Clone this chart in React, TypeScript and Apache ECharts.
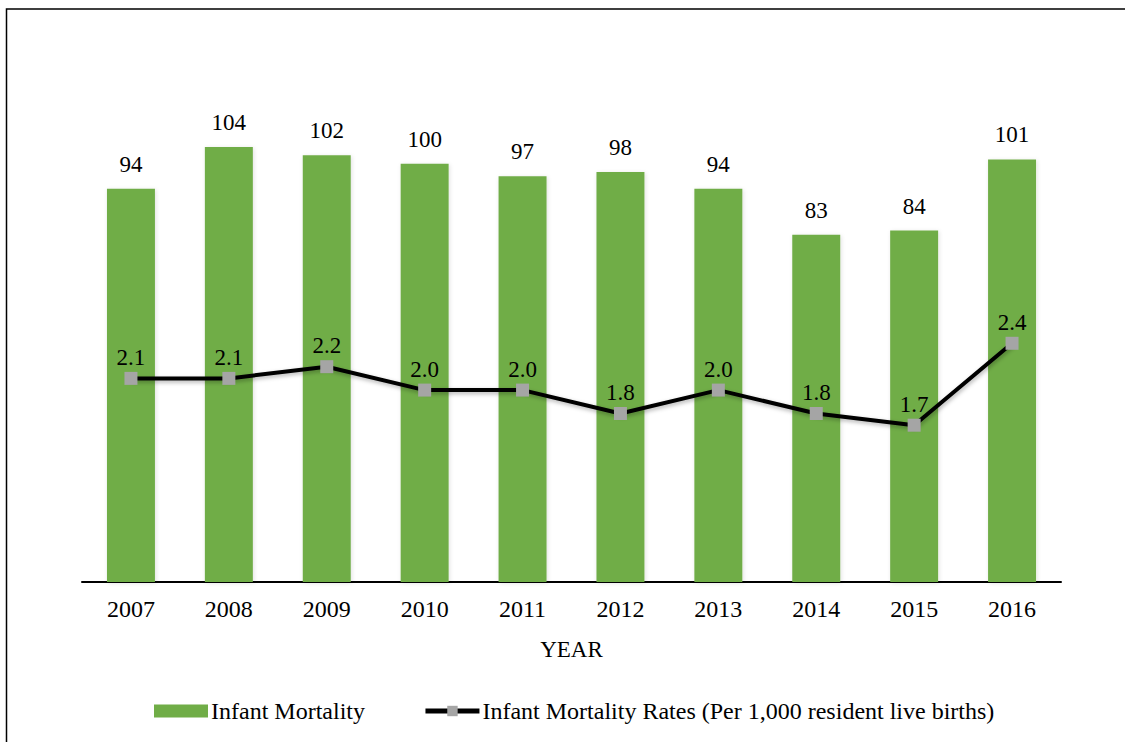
import React, { useEffect, useRef } from "react";
import * as echarts from "echarts";

const years = ["2007", "2008", "2009", "2010", "2011", "2012", "2013", "2014", "2015", "2016"];
const infantMortality = [94, 104, 102, 100, 97, 98, 94, 83, 84, 101];
const mortalityRates = [2.1, 2.1, 2.2, 2.0, 2.0, 1.8, 2.0, 1.8, 1.7, 2.4];

const FONT = "Liberation Serif";

export default function App() {
  const ref = useRef<HTMLDivElement>(null);
  useEffect(() => {
    if (!ref.current) return;
    const chart = echarts.init(ref.current, null, { renderer: "svg" });
    chart.setOption({
      animation: false,
      backgroundColor: "#ffffff",
      textStyle: { fontFamily: FONT, color: "#000" },
      grid: { left: 82, right: 64, top: 80, bottom: 160, containLabel: false },
      graphic: [
        {
          type: "rect",
          shape: { x: 6.5, y: 9, width: 1200, height: 800 },
          style: { fill: "none", stroke: "#000", lineWidth: 1.5 },
          silent: true,
        },
      ],
      legend: {
        left: 154,
        top: 699,
        padding: 0,
        itemGap: 58,
        itemWidth: 54,
        itemHeight: 13,
        textStyle: { fontFamily: FONT, fontSize: 24, color: "#000", padding: [0, 0, 0, -2] },
        data: [
          { name: "Infant Mortality", icon: "rect", itemStyle: { color: "#70AD47" } },
          {
            name: "Infant Mortality Rates (Per 1,000 resident live births)",
            lineStyle: { width: 5, color: "#000" },
            itemStyle: { color: "#A5A5A5" },
          },
        ],
      },
      xAxis: {
        type: "category",
        data: years,
        name: "YEAR",
        nameLocation: "middle",
        nameGap: 56,
        nameTextStyle: { fontFamily: FONT, fontSize: 23, color: "#000", verticalAlign: "top" },
        axisLine: { show: true, lineStyle: { color: "#000", width: 2 } },
        axisTick: { show: false },
        axisLabel: { fontFamily: FONT, fontSize: 24, color: "#000", margin: 15 },
      },
      yAxis: [
        { type: "value", min: 0, max: 120, show: false, splitLine: { show: false } },
        { type: "value", min: 0.36, max: 4.65, show: false, splitLine: { show: false } },
      ],
      series: [
        {
          name: "Infant Mortality",
          type: "bar",
          data: infantMortality,
          barWidth: "49%",
          itemStyle: {
            color: "#70AD47",
            shadowColor: "rgba(0,0,0,0.12)",
            shadowBlur: 4,
            shadowOffsetX: 1,
            shadowOffsetY: 1,
          },
          label: {
            show: true,
            position: "top",
            distance: 13,
            fontFamily: FONT,
            fontSize: 23,
            color: "#000",
          },
        },
        {
          name: "Infant Mortality Rates (Per 1,000 resident live births)",
          type: "line",
          yAxisIndex: 1,
          data: mortalityRates,
          symbol: "rect",
          symbolSize: 13,
          itemStyle: { color: "#A5A5A5" },
          lineStyle: {
            color: "#000",
            width: 4,
            shadowColor: "rgba(0,0,0,0.3)",
            shadowBlur: 4,
            shadowOffsetX: 1,
            shadowOffsetY: 2,
          },
          label: {
            show: true,
            position: "top",
            distance: 3,
            fontFamily: FONT,
            fontSize: 23,
            color: "#000",
            formatter: (p: any) => Number(p.value).toFixed(1),
          },
          z: 5,
        },
      ],
    });
    return () => chart.dispose();
  }, []);
  return (
    <div
      ref={ref}
      style={{ position: "absolute", left: 0, top: 0, width: 1125, height: 742 }}
    />
  );
}
